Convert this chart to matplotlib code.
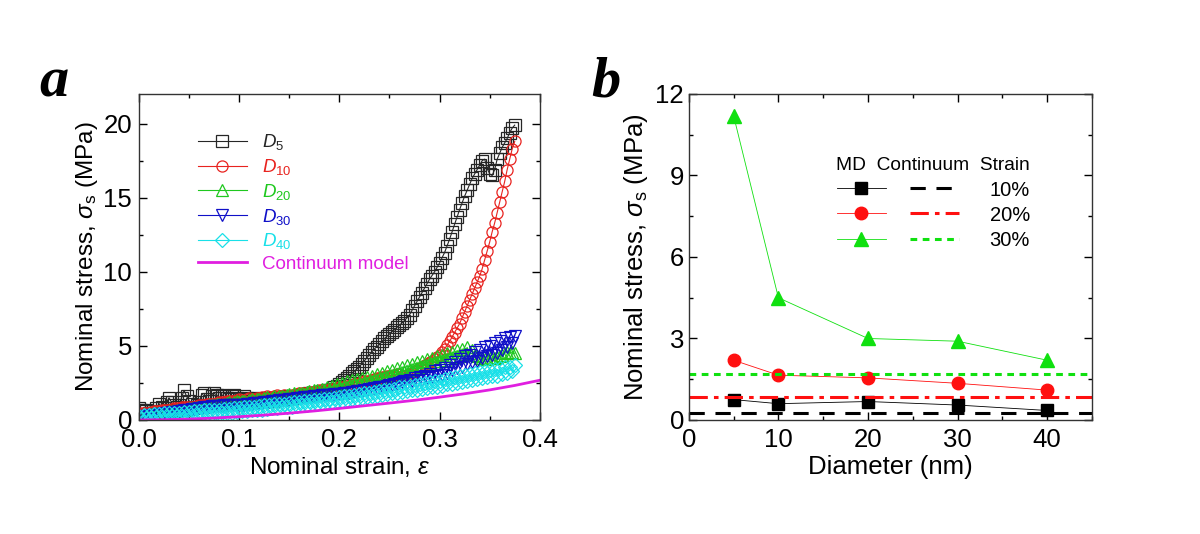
import matplotlib
matplotlib.use("Agg")
import matplotlib.pyplot as plt
from matplotlib.ticker import MultipleLocator

plt.rcParams['font.family'] = ['Liberation Sans', 'DejaVu Sans']
plt.rcParams['mathtext.fontset'] = 'custom'
plt.rcParams['mathtext.rm'] = 'Liberation Sans'
plt.rcParams['mathtext.it'] = 'Liberation Sans:italic'
plt.rcParams['mathtext.bf'] = 'Liberation Sans:bold'

# ---------------- Panel a data (nominal strain vs nominal stress, MPa) ----------------
strain = [0.0000, 0.0025, 0.0050, 0.0075, 0.0100, 0.0125, 0.0150, 0.0175, 0.0200, 0.0225,
          0.0250, 0.0275, 0.0300, 0.0325, 0.0350, 0.0375, 0.0400, 0.0425, 0.0450, 0.0475,
          0.0500, 0.0525, 0.0550, 0.0575, 0.0600, 0.0625, 0.0650, 0.0675, 0.0700, 0.0725,
          0.0750, 0.0775, 0.0800, 0.0825, 0.0850, 0.0875, 0.0900, 0.0925, 0.0950, 0.0975,
          0.1000, 0.1025, 0.1050, 0.1075, 0.1100, 0.1125, 0.1150, 0.1175, 0.1200, 0.1225,
          0.1250, 0.1275, 0.1300, 0.1325, 0.1350, 0.1375, 0.1400, 0.1425, 0.1450, 0.1475,
          0.1500, 0.1525, 0.1550, 0.1575, 0.1600, 0.1625, 0.1650, 0.1675, 0.1700, 0.1725,
          0.1750, 0.1775, 0.1800, 0.1825, 0.1850, 0.1875, 0.1900, 0.1925, 0.1950, 0.1975,
          0.2000, 0.2025, 0.2050, 0.2075, 0.2100, 0.2125, 0.2150, 0.2175, 0.2200, 0.2225,
          0.2250, 0.2275, 0.2300, 0.2325, 0.2350, 0.2375, 0.2400, 0.2425, 0.2450, 0.2475,
          0.2500, 0.2525, 0.2550, 0.2575, 0.2600, 0.2625, 0.2650, 0.2675, 0.2700, 0.2725,
          0.2750, 0.2775, 0.2800, 0.2825, 0.2850, 0.2875, 0.2900, 0.2925, 0.2950, 0.2975,
          0.3000, 0.3025, 0.3050, 0.3075, 0.3100, 0.3125, 0.3150, 0.3175, 0.3200, 0.3225,
          0.3250, 0.3275, 0.3300, 0.3325, 0.3350, 0.3375, 0.3400, 0.3425, 0.3450, 0.3475,
          0.3500, 0.3525, 0.3550, 0.3575, 0.3600, 0.3625, 0.3650, 0.3675, 0.3700, 0.3725,
          0.3750]

d5 = [0.8, 0.7, 0.6, 0.7, 0.5, 0.6, 0.5, 0.8, 1.1, 0.9,
      0.8, 1.2, 1.5, 1.2, 1.0, 0.9, 1.0, 1.5, 2.0, 1.6,
      1.3, 1.1, 0.9, 1.0, 1.2, 1.7, 1.8, 1.4, 1.3, 1.6,
      1.8, 1.7, 1.5, 1.7, 1.6, 1.5, 1.4, 1.6, 1.7, 1.5,
      1.3, 1.4, 1.6, 1.5, 1.4, 1.3, 1.5, 1.4, 1.3, 1.3,
      1.4, 1.5, 1.4, 1.3, 1.3, 1.4, 1.5, 1.4, 1.4, 1.5,
      1.6, 1.5, 1.5, 1.6, 1.7, 1.6, 1.7, 1.7, 1.8, 1.8,
      1.8, 1.8, 1.9, 1.9, 1.9, 2.0, 2.0, 2.1, 2.2, 2.3,
      2.4, 2.55, 2.7, 2.85, 3.0, 3.15, 3.3, 3.45, 3.6, 3.8,
      4.0, 4.2, 4.4, 4.6, 4.8, 4.95, 5.1, 5.3, 5.5, 5.65,
      5.8, 5.95, 6.1, 6.25, 6.4, 6.55, 6.7, 6.9, 7.1, 7.4,
      7.7, 8.0, 8.3, 8.6, 8.9, 9.2, 9.5, 9.75, 10.0, 10.3,
      10.6, 10.95, 11.3, 11.75, 12.2, 12.7, 13.2, 13.7, 14.2, 14.65,
      15.1, 15.5, 15.9, 16.3, 16.6, 16.9, 17.2, 17.5, 17.6, 17.0,
      16.6, 16.5, 16.9, 17.6, 18.0, 18.4, 18.7, 19.0, 19.4, 19.7,
      19.9]

d10 = [0.4, 0.45, 0.5, 0.5, 0.5, 0.55, 0.6, 0.6, 0.6, 0.65,
       0.7, 0.7, 0.7, 0.75, 0.8, 0.8, 0.8, 0.85, 0.9, 0.9,
       0.9, 0.9, 0.9, 0.95, 1.0, 1.0, 1.0, 1.05, 1.1, 1.1,
       1.1, 1.15, 1.2, 1.2, 1.2, 1.25, 1.3, 1.3, 1.3, 1.35,
       1.4, 1.35, 1.3, 1.4, 1.5, 1.45, 1.4, 1.5, 1.5, 1.55,
       1.5, 1.6, 1.55, 1.5, 1.6, 1.7, 1.65, 1.6, 1.7, 1.65,
       1.6, 1.7, 1.7, 1.75, 1.8, 1.8, 1.8, 1.85, 1.9, 1.9,
       1.9, 1.95, 2.0, 2.0, 2.0, 2.05, 2.1, 2.1, 2.1, 2.15,
       2.2, 2.2, 2.25, 2.3, 2.3, 2.35, 2.4, 2.45, 2.5, 2.55,
       2.6, 2.6, 2.65, 2.7, 2.75, 2.8, 2.85, 2.9, 2.9, 2.95,
       3.0, 3.0, 3.05, 3.1, 3.1, 3.0, 3.0, 3.05, 3.1, 3.2,
       3.3, 3.4, 3.5, 3.6, 3.7, 3.8, 3.9, 4.0, 4.1, 4.25,
       4.4, 4.6, 4.8, 5.05, 5.3, 5.6, 5.9, 6.2, 6.5, 6.9,
       7.3, 7.7, 8.1, 8.5, 8.9, 9.3, 9.7, 10.2, 10.8, 11.4,
       12.0, 12.7, 13.3, 14.0, 14.7, 15.4, 16.1, 16.9, 17.6, 18.3,
       18.8]

d20 = [0.3, 0.3, 0.35, 0.35, 0.4, 0.4, 0.4, 0.45, 0.5, 0.5,
       0.5, 0.55, 0.6, 0.6, 0.6, 0.65, 0.7, 0.7, 0.7, 0.75,
       0.8, 0.8, 0.8, 0.85, 0.9, 0.9, 0.9, 0.95, 1.0, 1.0,
       1.0, 1.05, 1.1, 1.0, 1.1, 1.15, 1.2, 1.1, 1.2, 1.25,
       1.2, 1.3, 1.25, 1.2, 1.35, 1.4, 1.3, 1.4, 1.45, 1.35,
       1.5, 1.55, 1.45, 1.5, 1.6, 1.5, 1.6, 1.65, 1.55, 1.7,
       1.75, 1.65, 1.8, 1.7, 1.8, 1.85, 1.75, 1.9, 1.95, 1.85,
       2.0, 2.05, 1.9, 2.1, 2.0, 2.2, 2.05, 2.3, 2.1, 2.4,
       2.2, 2.5, 2.25, 2.6, 2.3, 2.7, 2.4, 2.75, 2.45, 2.8,
       2.5, 2.9, 2.55, 3.0, 2.65, 3.1, 2.75, 3.2, 2.85, 3.3,
       2.95, 3.4, 3.05, 3.5, 3.15, 3.6, 3.25, 3.7, 3.35, 3.8,
       3.45, 3.9, 3.55, 4.0, 3.65, 4.1, 3.75, 4.2, 3.85, 4.3,
       3.95, 4.4, 4.05, 4.5, 4.15, 4.6, 4.25, 4.7, 4.35, 4.8,
       4.45, 4.9, 4.5, 4.7, 4.4, 4.3, 4.2, 4.15, 4.1, 4.1,
       4.15, 4.2, 4.2, 4.25, 4.3, 4.4, 4.5, 4.6, 4.5, 4.6,
       4.5]

d30 = [0.2, 0.22, 0.25, 0.27, 0.3, 0.32, 0.35, 0.37, 0.4, 0.42,
       0.45, 0.47, 0.5, 0.52, 0.55, 0.57, 0.6, 0.62, 0.65, 0.67,
       0.7, 0.72, 0.75, 0.77, 0.8, 0.82, 0.85, 0.87, 0.9, 0.92,
       0.93, 0.95, 0.96, 0.97, 0.98, 0.99, 1.0, 1.0, 1.0, 1.0,
       1.0, 1.02, 1.04, 1.06, 1.08, 1.1, 1.12, 1.14, 1.16, 1.18,
       1.2, 1.22, 1.24, 1.26, 1.28, 1.3, 1.32, 1.34, 1.36, 1.38,
       1.4, 1.42, 1.44, 1.46, 1.48, 1.5, 1.52, 1.54, 1.56, 1.58,
       1.6, 1.62, 1.64, 1.66, 1.68, 1.7, 1.7, 1.72, 1.73, 1.74,
       1.75, 1.78, 1.8, 1.83, 1.85, 1.88, 1.9, 1.93, 1.95, 1.98,
       2.0, 2.03, 2.06, 2.1, 2.13, 2.16, 2.2, 2.23, 2.26, 2.3,
       2.33, 2.36, 2.4, 2.45, 2.5, 2.55, 2.6, 2.5, 2.7, 2.6,
       2.8, 2.65, 2.9, 2.7, 3.0, 2.8, 3.1, 2.9, 3.3, 2.95,
       3.4, 3.05, 3.5, 3.2, 3.7, 3.35, 3.9, 3.5, 4.1, 3.6,
       4.3, 3.75, 4.4, 3.9, 4.6, 4.0, 4.7, 4.2, 4.9, 4.3,
       5.0, 4.4, 5.2, 4.5, 5.3, 4.7, 5.5, 4.9, 5.6, 5.2,
       5.7]

d40 = [0.3, 0.1, 0.35, 0.15, 0.35, 0.15, 0.4, 0.2, 0.4, 0.2,
       0.45, 0.2, 0.45, 0.25, 0.5, 0.25, 0.5, 0.3, 0.55, 0.3,
       0.55, 0.3, 0.6, 0.35, 0.6, 0.35, 0.65, 0.4, 0.65, 0.4,
       0.7, 0.45, 0.7, 0.45, 0.75, 0.5, 0.75, 0.5, 0.8, 0.55,
       0.8, 0.6, 0.85, 0.6, 0.9, 0.65, 0.9, 0.7, 0.95, 0.7,
       1.0, 0.75, 1.0, 0.8, 1.05, 0.8, 1.1, 0.85, 1.1, 0.9,
       1.15, 0.9, 1.2, 0.95, 1.2, 1.0, 1.25, 1.0, 1.3, 1.05,
       1.35, 1.1, 1.35, 1.15, 1.4, 1.2, 1.45, 1.2, 1.5, 1.25,
       1.55, 1.3, 1.6, 1.35, 1.65, 1.4, 1.7, 1.45, 1.75, 1.5,
       1.8, 1.55, 1.85, 1.6, 1.9, 1.65, 1.95, 1.7, 2.0, 1.75,
       2.05, 1.8, 2.1, 1.85, 2.2, 1.9, 2.25, 1.95, 2.3, 2.0,
       2.35, 2.05, 2.45, 2.1, 2.5, 2.15, 2.55, 2.2, 2.6, 2.25,
       2.65, 2.3, 2.75, 2.4, 2.85, 2.45, 2.9, 2.5, 3.0, 2.55,
       3.05, 2.6, 3.1, 2.7, 3.2, 2.75, 3.25, 2.8, 3.3, 2.9,
       3.4, 2.95, 3.45, 3.0, 3.5, 3.1, 3.55, 3.2, 3.6, 3.3,
       3.7]

cont_strain = [0.0, 0.025, 0.05, 0.075, 0.1, 0.125, 0.15, 0.175, 0.2,
               0.225, 0.25, 0.275, 0.3, 0.325, 0.35, 0.375, 0.4]
cont_stress = [0.0, 0.02, 0.06, 0.13, 0.22, 0.33, 0.46, 0.61, 0.78,
               0.96, 1.14, 1.33, 1.54, 1.77, 2.03, 2.33, 2.68]

series_a = [
    (d5, r'$D_{\mathregular{5}}$', '#262626', 's', 8),
    (d10, r'$D_{\mathregular{10}}$', '#e8231f', 'o', 8),
    (d20, r'$D_{\mathregular{20}}$', '#1fc81f', '^', 8.5),
    (d30, r'$D_{\mathregular{30}}$', '#1010c8', 'v', 8.5),
    (d40, r'$D_{\mathregular{40}}$', '#19e0e8', 'D', 7),
]

# ---------------- Panel b data ----------------
diam = [5, 10, 20, 30, 40]
md10 = [0.75, 0.6, 0.68, 0.55, 0.35]
md20 = [2.2, 1.65, 1.55, 1.35, 1.1]
md30 = [11.2, 4.5, 3.0, 2.9, 2.2]
cont10 = 0.27
cont20 = 0.85
cont30 = 1.68
strain_labels = ['10%', '20%', '30%']

fig = plt.figure(figsize=(12, 5.34), dpi=100)
axa = fig.add_axes([0.1158, 0.2135, 0.334, 0.6105])
axb = fig.add_axes([0.574, 0.2135, 0.336, 0.6105])

tick_fs = 18.5
label_fs = 17.5

# ----- panel a -----
handles_a = []
for vals, lab, col, mk, ms in series_a:
    h, = axa.plot(strain, vals, color=col, lw=0.8, marker=mk, ms=ms,
                  mfc='none', mec=col, mew=0.9, label=lab)
    handles_a.append(h)
hc, = axa.plot(cont_strain, cont_stress, color='#e01ee0', lw=2.0, label='Continuum model')
handles_a.append(hc)

axa.set_xlim(0, 0.4)
axa.set_ylim(0, 22)
axa.xaxis.set_major_locator(MultipleLocator(0.1))
axa.xaxis.set_minor_locator(MultipleLocator(0.05))
axa.yaxis.set_major_locator(MultipleLocator(5))
axa.yaxis.set_minor_locator(MultipleLocator(2.5))
axa.set_xticks([0.0, 0.1, 0.2, 0.3, 0.4])
axa.set_xticklabels(['0.0', '0.1', '0.2', '0.3', '0.4'])
axa.set_xlabel(r'Nominal strain, $\varepsilon$', fontsize=label_fs, labelpad=2)
axa.set_ylabel(r'Nominal stress, $\sigma_{\mathregular{s}}$ (MPa)', fontsize=label_fs, labelpad=2)

leg = axa.legend(handles=handles_a, loc='upper left', bbox_to_anchor=(0.128, 0.905),
                 frameon=False, fontsize=13.5, handlelength=2.6, handletextpad=0.8,
                 labelspacing=0.25, borderaxespad=0)
for txt, h in zip(leg.get_texts(), handles_a):
    txt.set_color(h.get_color())

# ----- panel b -----
l10, = axb.plot(diam, md10, color='black', lw=0.6, marker='s', ms=8, mfc='black', mec='black')
l20, = axb.plot(diam, md20, color='#ff1010', lw=0.6, marker='o', ms=9, mfc='#ff1010', mec='#ff1010')
l30, = axb.plot(diam, md30, color='#10e010', lw=0.6, marker='^', ms=10, mfc='#10e010', mec='#10e010')
c10 = axb.axhline(cont10, color='black', lw=2.2, ls=(0, (5, 3.5)))
c20 = axb.axhline(cont20, color='#ff1010', lw=2.2, ls=(0, (6, 2, 1.5, 2)))
c30 = axb.axhline(cont30, color='#10e010', lw=2.2, ls=(0, (2.2, 1.8)))

axb.set_xlim(0, 45)
axb.set_ylim(0, 12)
axb.xaxis.set_major_locator(MultipleLocator(10))
axb.xaxis.set_minor_locator(MultipleLocator(5))
axb.yaxis.set_major_locator(MultipleLocator(3))
axb.yaxis.set_minor_locator(MultipleLocator(1.5))
axb.set_xlabel('Diameter (nm)', fontsize=label_fs + 1, labelpad=2)
axb.set_ylabel(r'Nominal stress, $\sigma_{\mathregular{s}}$ (MPa)', fontsize=label_fs + 1, labelpad=4)

legb = axb.legend(handles=[l10, l20, l30, c10, c20, c30],
                  labels=['', '', ''] + strain_labels,
                  ncol=2, loc='upper left', bbox_to_anchor=(0.346, 0.83),
                  frameon=False, fontsize=14.5, handlelength=2.45, handletextpad=1.5,
                  columnspacing=-0.3, labelspacing=0.3, borderaxespad=0,
                  title='MD  Continuum  Strain', title_fontsize=13.8)

for ax in (axa, axb):
    ax.tick_params(which='both', direction='in', top=True, right=True,
                   labelsize=tick_fs, width=1.0)
    ax.tick_params(which='major', length=6)
    ax.tick_params(which='minor', length=3)
    for s in ax.spines.values():
        s.set_linewidth(1.0)
        s.set_color('#333333')
axa.tick_params(axis='x', pad=6)
axb.tick_params(axis='x', pad=6)
axa.tick_params(axis='y', pad=5)

fig.text(0.045, 0.845, 'a', fontsize=42, fontweight='bold', fontstyle='italic',
         family='Liberation Serif', ha='center', va='center')
fig.text(0.505, 0.845, 'b', fontsize=42, fontweight='bold', fontstyle='italic',
         family='Liberation Serif', ha='center', va='center')

fig.savefig('out.png', dpi=100)
